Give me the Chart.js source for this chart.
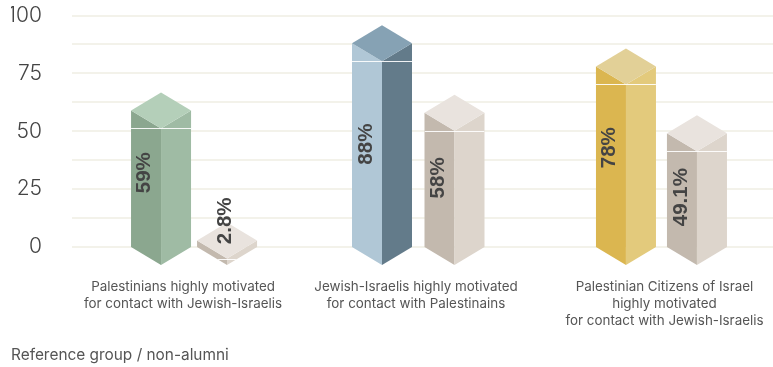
<!DOCTYPE html>
<html>
<head>
<meta charset="utf-8">
<style>
  html, body { margin: 0; padding: 0; background: #ffffff; }
  canvas { display: block; }
</style>
<script src="https://cdn.jsdelivr.net/npm/chart.js@4/dist/chart.umd.min.js"></script>
</head>
<body>
<canvas id="chart" width="773" height="367"></canvas>
<script>
// Share of each group highly motivated for contact, alumni next to the reference group.
const categories = [
  ['Palestinians highly motivated', 'for contact with Jewish-Israelis'],
  ['Jewish-Israelis highly motivated', 'for contact with Palestinains'],
  ['Palestinian Citizens of Israel', 'highly motivated', 'for contact with Jewish-Israelis']
];
const alumniValues = [59, 88, 78];
const referenceValues = [2.8, 58, 49.1];
const valueLabels = [['59%', '88%', '78%'], ['2.8%', '58%', '49.1%']];
const footnote = 'Reference group / non-alumni';

// Face colours of the columns, one row per group
const alumniLeft = ['#8ba78f', '#b0c7d6', '#dbb650'];
const alumniRight = ['#9fbba4', '#637b8a', '#e3ca7c'];
const alumniTop = ['#b4cfb9', '#86a2b4', '#e2d097'];
const referenceLeft = ['#c3b9ae', '#c3b9ae', '#c3b9ae'];
const referenceRight = ['#ddd5cc', '#ddd5cc', '#ddd5cc'];
const referenceTop = ['#e9e3de', '#e9e3de', '#e9e3de'];

// Column and tick-label adjustments away from the evenly spaced category slots
const columnShift = [[2.2, -10.5, -0.2], [8.2, 2, 10.8]];
const tickShift = [-5.8, -6.5, 8.3];
const labelInsetX = [[13.5, 14.5, 13.5], [28, 13.5, 14]];
const labelShiftY = [[-6, -1, -9], [-23, -2, 7]];

const inkColor = '#444444';
const depthRatio = 0.3;

// Replaces the flat bars with isometric square columns
const prismColumns = {
  id: 'prismColumns',
  beforeDatasetDraw(chart, args) {
    const { ctx } = chart;
    const dataset = chart.data.datasets[args.index];
    const base = chart.scales.y.getPixelForValue(0);
    args.meta.data.forEach((bar, i) => {
      const cx = bar.x + columnShift[args.index][i];
      const half = bar.width / 2;
      const depth = bar.width * depthRatio;
      const left = cx - half;
      const right = cx + half;
      const y = bar.y;

      const face = (points, color) => {
        ctx.beginPath();
        points.forEach(([px, py], n) => (n ? ctx.lineTo(px, py) : ctx.moveTo(px, py)));
        ctx.closePath();
        ctx.fillStyle = color;
        ctx.fill();
      };

      ctx.save();
      face([[left, y], [cx, y + depth], [cx, base + depth], [left, base]], dataset.backgroundColor[i]);
      face([[right, y], [cx, y + depth], [cx, base + depth], [right, base]], dataset.rightColors[i]);
      face([[left, y], [cx, y - depth], [right, y], [cx, y + depth]], dataset.topColors[i]);

      // Thin highlight level with the front corner, kept inside the column outline
      ctx.save();
      ctx.beginPath();
      ctx.moveTo(left, base);
      ctx.lineTo(left, y);
      ctx.lineTo(cx, y - depth);
      ctx.lineTo(right, y);
      ctx.lineTo(right, base);
      ctx.lineTo(cx, base + depth);
      ctx.closePath();
      ctx.clip();
      ctx.strokeStyle = 'rgba(255,255,255,0.9)';
      ctx.lineWidth = 1;
      ctx.beginPath();
      ctx.moveTo(left, Math.round(y + depth) + 0.5);
      ctx.lineTo(right, Math.round(y + depth) + 0.5);
      ctx.stroke();
      ctx.restore();

      // Rotated value label
      const labelX = left + labelInsetX[args.index][i];
      const labelY = (y + base) / 2 + labelShiftY[args.index][i];
      ctx.translate(labelX, labelY);
      ctx.rotate(-Math.PI / 2);
      ctx.font = 'bold 20.5px "Liberation Sans"';
      ctx.fillStyle = inkColor;
      ctx.textAlign = 'center';
      ctx.textBaseline = 'middle';
      ctx.fillText(valueLabels[args.index][i], 0, 0);
      ctx.restore();
    });
    return false;
  }
};

new Chart(document.getElementById('chart'), {
  type: 'bar',
  data: {
    labels: categories,
    datasets: [
      {
        label: 'Alumni',
        data: alumniValues,
        backgroundColor: alumniLeft,
        rightColors: alumniRight,
        topColors: alumniTop,
        barThickness: 60,
        clip: false
      },
      {
        label: 'Reference group / non-alumni',
        data: referenceValues,
        backgroundColor: referenceLeft,
        rightColors: referenceRight,
        topColors: referenceTop,
        barThickness: 60,
        clip: false
      }
    ]
  },
  options: {
    responsive: false,
    animation: false,
    layout: { padding: { left: 11, top: 15.5, right: 0, bottom: 0 } },
    plugins: {
      legend: { display: false },
      tooltip: { enabled: false },
      title: {
        display: true,
        text: footnote,
        position: 'bottom',
        align: 'start',
        color: '#555555',
        font: { family: 'Inter', size: 15.4, weight: '400', lineHeight: 1.2 },
        padding: { top: 0, bottom: 2 }
      }
    },
    scales: {
      x: {
        type: 'category',
        offset: true,
        grid: { display: false, drawTicks: false },
        border: { display: false },
        ticks: {
          padding: 31,
          maxRotation: 0,
          autoSkip: false,
          color: '#555555',
          font: { family: 'Inter', size: 13.4, weight: '400', lineHeight: 1.29 }
        },
        afterBuildTicks(scale) {
          const slotPixel = Object.getPrototypeOf(scale).getPixelForTick;
          scale.getPixelForTick = function (i) {
            return slotPixel.call(this, i) + (tickShift[i] || 0);
          };
        },
        afterFit(scale) {
          scale.height = 367 - 247 - 20.5;
          scale.paddingLeft = 0;
          scale.paddingRight = 0;
        }
      },
      y: {
        type: 'linear',
        min: 0,
        max: 100,
        grid: { color: '#f3f2ea', lineWidth: 2, drawTicks: false },
        border: { display: false },
        ticks: {
          stepSize: 12.5,
          autoSkip: false,
          padding: 30,
          color: '#444444',
          font: { family: 'Inter', size: 21, weight: '300' },
          callback: (value) => (value % 25 === 0 ? String(value) : '')
        },
        afterFit(scale) {
          scale.width = 61;
          scale.paddingTop = 0;
          scale.paddingBottom = 0;
        }
      }
    }
  },
  plugins: [prismColumns]
});
</script>
</body>
</html>
